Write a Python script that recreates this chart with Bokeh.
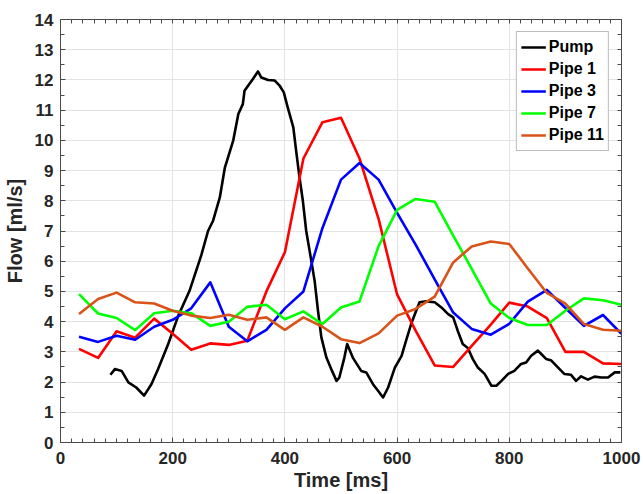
from bokeh.plotting import figure
from bokeh.models import Range1d, SingleIntervalTicker, FixedTicker, LinearAxis, Legend, LegendItem
from bokeh.embed import file_html
from bokeh.resources import INLINE

# ---- data ----
pump_t = [89, 97, 109, 121, 135, 149, 162, 174, 192, 210, 230, 251, 263, 272, 284, 293, 308, 317, 325, 328,
          343, 352, 358, 370, 382, 391, 398, 405, 415, 420, 426, 432, 438, 444, 453, 459, 465, 474, 484, 492,
          497, 506, 511, 521, 536, 545, 557, 566, 575, 584, 596, 608, 616, 625, 634, 640, 652, 667, 679, 691,
          700, 708, 717, 726, 735, 744, 756, 768, 777, 786, 798, 809, 821, 830, 839, 851, 857, 866, 875, 887,
          898, 910, 919, 928, 940, 952, 964, 976, 988, 998]
pump_q = [2.24, 2.43, 2.37, 1.99, 1.82, 1.55, 1.93, 2.43, 3.26, 4.2, 5.02, 6.2, 7.0, 7.34, 8.11, 9.1, 10.0, 10.87, 11.2, 11.64,
          12.03, 12.28, 12.08, 12.0, 11.98, 11.8, 11.59, 11.09, 10.43, 9.66, 8.78, 8.0, 7.0, 6.35, 5.35, 4.36, 3.48, 2.81, 2.37, 2.04,
          2.15, 2.81, 3.26, 2.81, 2.37, 2.32, 1.93, 1.71, 1.49, 1.82, 2.48, 2.87, 3.37, 3.92, 4.36, 4.64, 4.67, 4.64, 4.47, 4.25,
          4.14, 3.7, 3.26, 3.13, 2.76, 2.48, 2.27, 1.88, 1.88, 2.04, 2.27, 2.37, 2.6, 2.65, 2.87, 3.04, 2.93, 2.76, 2.71, 2.48,
          2.27, 2.24, 2.04, 2.19, 2.08, 2.18, 2.15, 2.15, 2.32, 2.32]

pipe_t = [33, 67, 100, 133, 167, 200, 233, 267, 300, 333, 367, 400, 433, 467, 500, 533, 567, 600, 633, 667,
          700, 733, 767, 800, 833, 867, 900, 933, 967, 1000]
pipe1 = [3.1, 2.8, 3.68, 3.47, 4.1, 3.6, 3.07, 3.28, 3.23, 3.37, 5.0, 6.3, 9.4, 10.6, 10.75, 9.4, 7.4, 4.9, 3.7, 2.55,
         2.5, 3.2, 3.9, 4.63, 4.5, 4.12, 3.0, 3.0, 2.62, 2.6]
pipe3 = [3.5, 3.33, 3.53, 3.4, 3.83, 4.06, 4.44, 5.3, 3.83, 3.35, 3.73, 4.44, 5.0, 7.1, 8.7, 9.25, 8.7, 7.6, 6.55, 5.4,
         4.3, 3.76, 3.57, 3.93, 4.66, 5.05, 4.45, 3.86, 4.22, 3.6]
pipe7 = [4.91, 4.27, 4.12, 3.72, 4.28, 4.36, 4.28, 3.86, 4.0, 4.49, 4.56, 4.08, 4.34, 3.92, 4.47, 4.67, 6.5, 7.7, 8.06, 7.97,
         6.85, 5.75, 4.6, 4.12, 3.89, 3.89, 4.36, 4.77, 4.71, 4.56]
pipe11 = [4.25, 4.75, 4.96, 4.64, 4.6, 4.36, 4.2, 4.12, 4.23, 4.06, 4.14, 3.73, 4.14, 3.83, 3.42, 3.29, 3.61, 4.2, 4.42, 4.83,
          5.96, 6.49, 6.65, 6.57, 5.76, 4.95, 4.6, 3.92, 3.73, 3.7]

names = ["Pump", "Pipe 1", "Pipe 3", "Pipe 7", "Pipe 11"]
colors = ["#000000", "#FF0000", "#0000FF", "#00FF00", "#D95319"]

FONT = "Liberation Sans"
AX = "#4a4a4a"

W, H = 643, 494
p = figure(width=W, height=H, output_backend="svg", toolbar_location=None,
           x_range=Range1d(0, 1000), y_range=Range1d(0, 14),
           min_border_left=59, min_border_right=W - 621, min_border_top=19, min_border_bottom=H - 442)
p.outline_line_color = None

series = [(pump_t, pump_q), (pipe_t, pipe1), (pipe_t, pipe3), (pipe_t, pipe7), (pipe_t, pipe11)]
items = []
for (xs, ys), name, c in zip(series, names, colors):
    r = p.line(xs, ys, line_color=c, line_width=2.6, line_join="round")
    items.append(LegendItem(label=name, renderers=[r]))

def style_axis(ax):
    ax.axis_line_color = AX
    ax.major_tick_line_color = AX
    ax.minor_tick_line_color = AX
    ax.major_tick_in = 5
    ax.major_tick_out = 0
    ax.minor_tick_in = 4
    ax.minor_tick_out = 0
    ax.major_label_text_font = FONT
    ax.major_label_text_font_style = "bold"
    ax.major_label_text_font_size = "17px"
    ax.major_label_text_color = "#262626"
    ax.axis_label_text_font = FONT
    ax.axis_label_text_font_style = "bold"
    ax.axis_label_text_font_size = "20px"
    ax.axis_label_text_color = "#262626"

xt = SingleIntervalTicker(interval=200, num_minor_ticks=10)
yt = SingleIntervalTicker(interval=1, num_minor_ticks=2)
p.xaxis.ticker = xt
p.yaxis.ticker = yt
p.xaxis.axis_label = "Time [ms]"
p.yaxis.axis_label = "Flow [ml/s]"
style_axis(p.xaxis[0])
style_axis(p.yaxis[0])
p.xaxis.major_label_standoff = 9
p.xaxis.axis_label_standoff = 2
p.yaxis.major_label_standoff = 7
p.yaxis.axis_label_standoff = 6

# box axes (top/right): ticks only, no labels
top_ticks = [i * 20 for i in range(0, 51)]
right_ticks = [i * 0.5 for i in range(0, 29)]
top = LinearAxis(ticker=FixedTicker(ticks=[], minor_ticks=top_ticks))
right = LinearAxis(ticker=FixedTicker(ticks=[], minor_ticks=right_ticks))
for ax in (top, right):
    style_axis(ax)
    ax.major_label_standoff = 0
    ax.minor_tick_in = 4
p.add_layout(top, "above")
p.add_layout(right, "right")

p.xgrid.ticker = xt
p.ygrid.ticker = yt
p.grid.grid_line_color = "#E3E3E3"
p.grid.grid_line_width = 1

legend = Legend(items=items, location="top_right")
legend.label_text_font = FONT
legend.label_text_font_style = "bold"
legend.label_text_font_size = "16px"
legend.label_text_color = "#000000"
legend.border_line_color = "#7a7a7a"
legend.border_line_width = 1
legend.glyph_width = 25
legend.glyph_height = 22
legend.label_height = 22
legend.spacing = 0
legend.padding = 4
legend.margin = 12
legend.label_standoff = 3
p.add_layout(legend)

open("out.html", "w").write(file_html(p, INLINE))
